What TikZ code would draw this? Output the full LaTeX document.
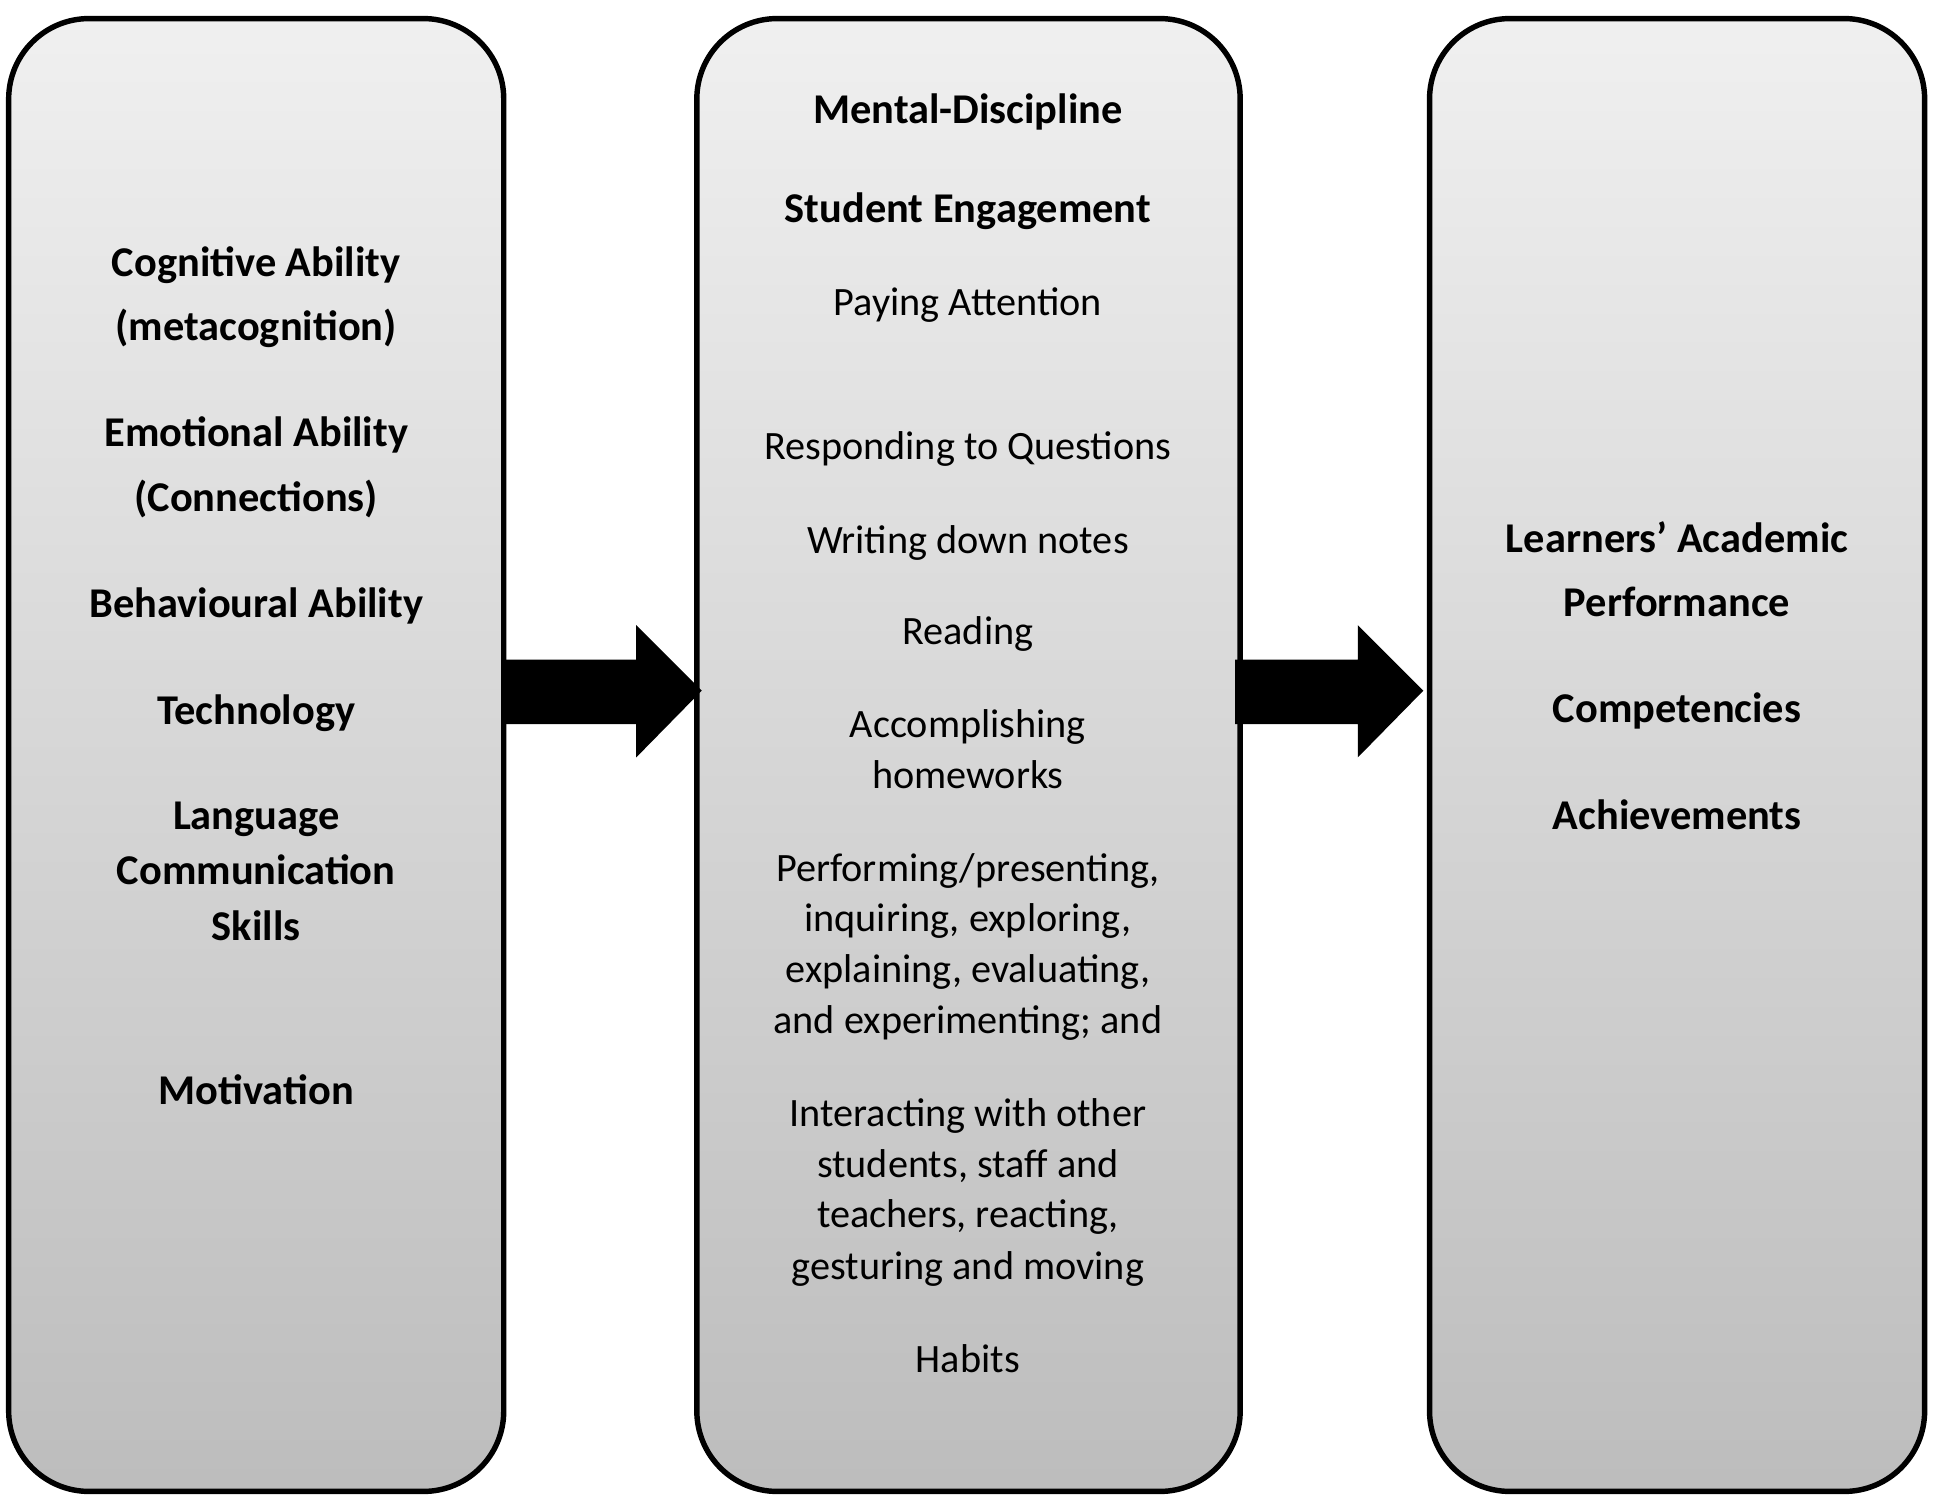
\documentclass[tikz,border=0pt]{standalone}
\usepackage{fontspec}
\setmainfont{Carlito}
\begin{document}
\begin{tikzpicture}[x=0.02cm,y=-0.02cm,
 box/.style={draw=black,line width=2.5pt,rounded corners=1.3cm,top color=gray!12,bottom color=gray!52},
 t/.style={anchor=base,font=\fontsize{18.5}{22}\selectfont,inner sep=0pt},
 b/.style={t,font=\fontsize{19.5}{22}\selectfont\bfseries},
 arr/.style={fill=black,draw=none}]
\useasboundingbox (0,0) rectangle (1565,1213);
\node[box,minimum width=400*0.02cm,minimum height=1190*0.02cm,inner sep=0pt] (L) at (207,610) {};
\node[box,minimum width=439*0.02cm,minimum height=1190*0.02cm,inner sep=0pt] (M) at (782.5,610) {};
\node[box,minimum width=400*0.02cm,minimum height=1190*0.02cm,inner sep=0pt] (R) at (1355,610) {};
\fill[arr] (405,533) -- (514,533) -- (514,505) -- (567,558) -- (514,612) -- (514,585) -- (405,585) -- cycle;
\fill[arr] (998,533) -- (1097,533) -- (1097,505) -- (1150,558) -- (1097,612) -- (1097,585) -- (998,585) -- cycle;
\coordinate (a1) at (405,558); \coordinate (a2) at (998,558);
% left
\foreach \y/\s [count=\i] in {213/Cognitive Ability,265/(metacognition),351/Emotional Ability,403/(Connections),489/Behavioural Ability,575/Technology,660/Language/,705/Communication,750/Skills,882/Motivation}
  \node[b] (l\i) at (207,\y+10) {\s};
% middle
\node[b] (m1) at (782,100) {Mental-Discipline};
\node[b] (m2) at (782,180) {Student Engagement};
\foreach \y/\s [count=\i] in {246/Paying Attention,288//Listening,362/Responding to Questions,438/Writing down notes,512/Reading,587/Accomplishing,628/homeworks,703/{Performing/presenting,},744/{inquiring, exploring,},785/{explaining, evaluating,},826/{and experimenting; and},901/Interacting with other,942/{students, staff and},983/{teachers, reacting,},1025/gesturing and moving,1100/Habits}
  \node[t] (n\i) at (782,\y+9) {\s};
% right
\foreach \y/\s [count=\i] in {436/Learners’ Academic,488/Performance,574/Competencies,660/Achievements}
  \node[b] (r\i) at (1355,\y+10) {\s};
\end{tikzpicture}
\end{document}
